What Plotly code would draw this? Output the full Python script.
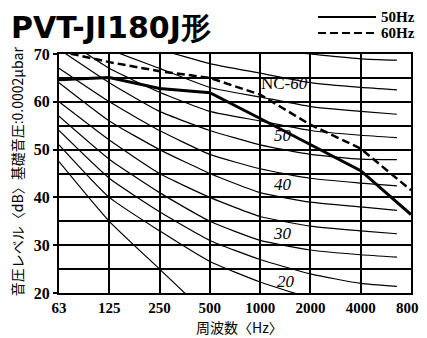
import plotly.graph_objects as go

# ---- data -------------------------------------------------------------
freq_labels = ["63", "125", "250", "500", "1000", "2000", "4000", "8000"]
band_pos = [0, 1, 2, 3, 4, 5, 6, 7]

level_50hz = [64.6, 65.1, 62.8, 61.9, 56.5, 51.0, 45.6, 36.4]
level_60hz = [70.6, 68.3, 66.4, 65.0, 61.5, 55.2, 50.2, 41.5]

# NC curves (drawn to the end of the 8 kHz band mark used on the original sheet)
nc_pos = [0, 1, 2, 3, 4, 5, 6, 6.72]
nc_15 = [47.5, 35, 25, 15]
nc_20 = [51, 40, 33, 26.6, 22.3, 19, 17, 16]
nc_25 = [54, 44, 37, 31, 27, 24, 22, 21.4]
nc_30 = [57, 48, 41, 35, 31, 29, 28, 27.5]
nc_35 = [60, 52, 45, 40, 36, 34, 33, 32.4]
nc_40 = [64, 56, 50, 45, 41, 39, 38, 37.3]
nc_45 = [67, 60, 54, 49, 46, 44, 43, 42.4]
nc_50 = [71, 64, 58, 54, 51, 49, 48, 47.9]
nc_55 = [74, 67, 62, 58, 56, 54, 53, 52.5]
nc_60 = [77, 71, 67, 63, 61, 59, 58, 57.4]
nc_65 = [80, 75, 71, 68, 66, 64, 63, 62.5]
nc_70 = [83, 79, 75, 72, 71, 70, 69, 68.7]
nc_curves = [nc_15, nc_20, nc_25, nc_30, nc_35, nc_40,
             nc_45, nc_50, nc_55, nc_60, nc_65, nc_70]

nc_label_text = ["NC-<i>60</i>", "<i>50</i>", "<i>40</i>", "<i>30</i>", "<i>20</i>"]
nc_label_x = [4.49, 4.45, 4.45, 4.45, 4.51]
nc_label_y = [63.8, 52.9, 42.6, 32.4, 22.5]

y_ticks = [20, 30, 40, 50, 60, 70]
series_names = ["50Hz", "60Hz"]

# ---- figure -----------------------------------------------------------
fig = go.Figure()

for vals in nc_curves:
    fig.add_trace(go.Scatter(
        x=nc_pos[:len(vals)], y=vals, mode="lines",
        line=dict(color="black", width=1.2, shape="spline", smoothing=0.5),
        showlegend=False, hoverinfo="skip"))

styles = [dict(color="black", width=3), dict(color="black", width=2.5, dash="8px,4px")]
for name, vals, st in zip(series_names, [level_50hz, level_60hz], styles):
    fig.add_trace(go.Scatter(x=band_pos, y=vals, mode="lines", name=name,
                             line=st, showlegend=False))

for t, x, y in zip(nc_label_text, nc_label_x, nc_label_y):
    fig.add_annotation(x=x, y=y, text=t, showarrow=False,
                       font=dict(family="Liberation Serif", size=17, color="black"))

y_tick_font = dict(family="Liberation Serif", size=16, color="black", weight="bold")
x_tick_font = dict(family="Liberation Serif", size=15, color="black", weight="bold")
legend_font = dict(family="Liberation Serif", size=15, color="black", weight="bold")

# hand-drawn style legend at top right (paper coordinates)
legend_rows_y = [1.1548, 1.0879]
for name, st, ly in zip(series_names, styles, legend_rows_y):
    fig.add_shape(type="line", xref="paper", yref="paper",
                  x0=0.7358, x1=0.9006, y0=ly, y1=ly,
                  line=dict(color="black", width=2, dash=st.get("dash", "solid")))
    fig.add_annotation(xref="paper", yref="paper", x=0.909, y=ly,
                       xanchor="left", yanchor="middle", showarrow=False,
                       text=name, font=legend_font)

fig.update_xaxes(
    range=[0, 7], tickmode="array", tickvals=band_pos, ticktext=freq_labels,
    showgrid=True, gridcolor="black", gridwidth=2,
    showline=True, linecolor="black", linewidth=2, mirror=True,
    ticks="", tickfont=x_tick_font, zeroline=False)
fig.update_yaxes(
    range=[20, 70], tickmode="array", tickvals=y_ticks,
    showgrid=True, gridcolor="black", gridwidth=2,
    minor=dict(dtick=5, tick0=20, showgrid=True, gridcolor="black", gridwidth=1.5),
    showline=True, linecolor="black", linewidth=2, mirror=True,
    ticks="outside", ticklen=4, tickcolor="black", tickwidth=2,
    tickfont=y_tick_font, zeroline=False)

fig.add_annotation(xref="paper", yref="paper", x=-0.142, y=1.1925,
                   xanchor="left", yanchor="top", showarrow=False,
                   text="PVT-JI180J形",
                   font=dict(family="DejaVu Sans", size=30, color="black", weight="bold"))
fig.add_annotation(xref="paper", yref="paper", x=-0.119, y=0.51,
                   xanchor="center", yanchor="middle",
                   textangle=-90, showarrow=False,
                   text="音圧レベル〈dB〉基礎音圧:0.0002μbar",
                   font=dict(family="Noto Sans CJK JP", size=14, color="black"))
fig.add_annotation(xref="paper", yref="paper", x=0.514, y=-0.142,
                   xanchor="center", yanchor="middle",
                   showarrow=False, text="周波数〈Hz〉",
                   font=dict(family="Noto Sans CJK JP", size=14, color="black"))

# the page is shown with the browser's default 8px body margin,
# so the figure is 8px smaller than the window on each offset side
fig.update_layout(
    width=419, height=330,
    margin=dict(l=51, r=16, t=46, b=45, autoexpand=False),
    paper_bgcolor="white", plot_bgcolor="white",
    showlegend=False,
)

fig.write_html("out.html")
